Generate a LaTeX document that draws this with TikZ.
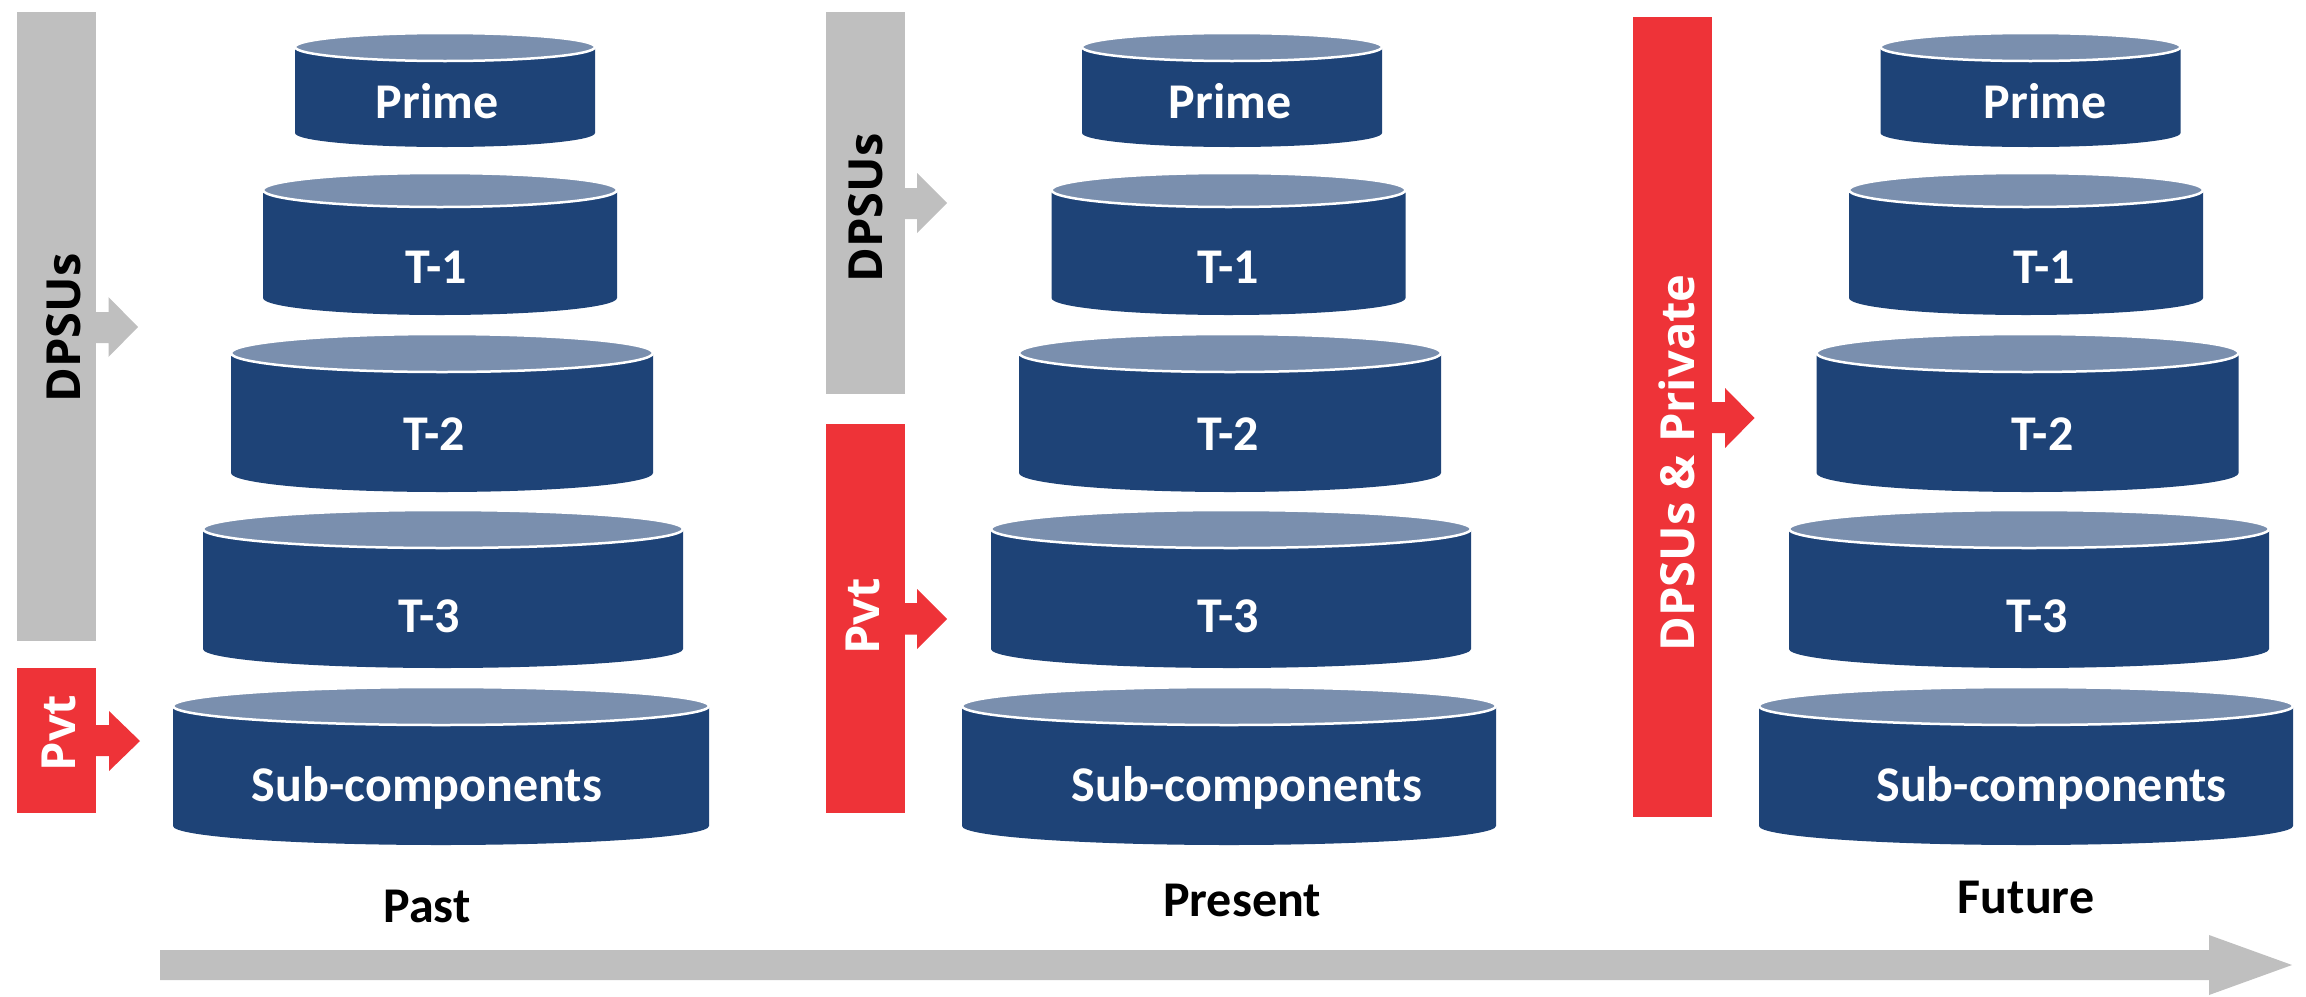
\documentclass[tikz,border=0pt]{standalone}
\usepackage{fontspec}
\setmainfont{Carlito}
\newfontfamily\labfont{Open Sans}
\definecolor{cylside}{HTML}{1E4377}
\definecolor{cyltop}{HTML}{7A8FAE}
\definecolor{barred}{HTML}{EE3338}
\definecolor{bargray}{HTML}{BFBFBF}
\tikzset{
  cyltext/.style={text=white, font=\fontsize{50}{60}\selectfont\bfseries, anchor=base, inner sep=0pt},
  timetext/.style={text=black, font=\fontsize{50}{60}\selectfont\bfseries, anchor=base, inner sep=0pt},
  barlabel/.style={rotate=90, anchor=base, inner sep=0pt, font=\labfont\bfseries\fontsize{47}{56}\selectfont},
  graybar/.style={fill=bargray, draw=none, inner sep=0pt, anchor=north west},
  redbar/.style={fill=barred, draw=none, inner sep=0pt, anchor=north west},
}
% #1 name, #2 cx, #3 top, #4 bottom, #5 half width, #6 ry, #7 text, #8 text x, #9 text baseline
\newcommand\drawcyl[9]{%
  \pgfmathsetmacro\cylL{#2-#5}%
  \pgfmathsetmacro\cylR{#2+#5}%
  \fill[cylside] (\cylL,#3) -- (\cylL,#4) arc[start angle=180,end angle=360,x radius=#5pt,y radius=#6pt] -- (\cylR,#3) -- cycle;
  \filldraw[fill=cyltop, draw=white, line width=2.5pt] (#2,#3) ellipse[x radius=#5pt, y radius=#6pt];
  \node[cyltext] (#1) at (#8,#9) {#7};
}
\begin{document}
\begin{tikzpicture}[x=1pt,y=-1pt]
\useasboundingbox (0,0) rectangle (2306,996);

% ---------- Past ----------
\node[graybar, minimum width=79pt, minimum height=629pt] (pastgray) at (17,12) {};
\node[redbar, minimum width=79pt, minimum height=145pt] (pastred) at (17,668) {};
\fill[bargray] (96,312) -- (108.5,312) -- (108.5,297) -- (138,327) -- (108.5,357) -- (108.5,343) -- (96,343) -- cycle;
\fill[barred] (96,725) -- (109,725) -- (109,711) -- (140,741) -- (109,771) -- (109,756) -- (96,756) -- cycle;
\node[barlabel, text=black] (pastdpsu) at (80,328) {DPSUs};
\node[barlabel, text=white] (pastpvt) at (75,733) {Pvt};

\drawcyl{pastprime}{445}{47}{133}{150}{14}{Prime}{437}{118}
\drawcyl{pastt1}{440}{190}{298}{177}{17}{T-1}{436}{283}
\drawcyl{pastt2}{442}{353}{473}{211}{19}{T-2}{434}{450}
\drawcyl{pastt3}{443}{529}{649}{240}{19}{T-3}{429}{632}
\drawcyl{pastsub}{441}{706}{826}{268}{19}{Sub-components}{427}{801}
\node[timetext] (past) at (427,922) {Past};

% ---------- Present ----------
\node[graybar, minimum width=79pt, minimum height=382pt] (presgray) at (826,12) {};
\node[redbar, minimum width=79pt, minimum height=389pt] (presred) at (826,424) {};
\fill[bargray] (905,188) -- (917,188) -- (917,173) -- (947,203) -- (917,233) -- (917,219) -- (905,219) -- cycle;
\fill[barred] (905,603) -- (917,603) -- (917,589) -- (947,619) -- (917,649) -- (917,634.5) -- (905,634.5) -- cycle;
\node[barlabel, text=black] (presdpsu) at (882.6,208) {DPSUs};
\node[barlabel, text=white] (prespvt) at (879.5,616.5) {Pvt};

\drawcyl{presprime}{1232}{47}{133}{150}{14}{Prime}{1230}{118}
\drawcyl{prest1}{1228.5}{190}{298}{177}{17}{T-1}{1228}{283}
\drawcyl{prest2}{1230}{353}{473}{211}{19}{T-2}{1228}{450}
\drawcyl{prest3}{1231}{529}{649}{240}{19}{T-3}{1228}{632}
\drawcyl{pressub}{1229}{706}{826}{267}{19}{Sub-components}{1247}{801}
\node[timetext] (present) at (1242,916) {Present};

% ---------- Future ----------
\node[redbar, minimum width=79pt, minimum height=800pt] (futred) at (1633,17) {};
\fill[barred] (1712,402) -- (1725,402) -- (1725,388) -- (1754.5,418) -- (1725,448) -- (1725,433) -- (1712,433) -- cycle;
\node[barlabel, text=white] (futlabel) at (1694,463) {DPSUs \& Private};

\drawcyl{futprime}{2030.5}{47}{133}{150}{14}{Prime}{2045}{118}
\drawcyl{futt1}{2026}{190}{298}{177}{17}{T-1}{2044}{283}
\drawcyl{futt2}{2027.5}{353}{473}{211}{19}{T-2}{2042.5}{450}
\drawcyl{futt3}{2029}{529}{649}{240}{19}{T-3}{2037}{632}
\drawcyl{futsub}{2026}{706}{826}{267}{19}{Sub-components}{2051.5}{801}
\node[timetext] (future) at (2026,913) {Future};

% ---------- time axis ----------
\coordinate (axisstart) at (160,965);
\coordinate (axisend) at (2292,965);
\fill[bargray] (160,950) -- (2209,950) -- (2209,935) -- (axisend) -- (2209,995) -- (2209,980) -- (160,980) -- cycle;
\end{tikzpicture}
\end{document}
